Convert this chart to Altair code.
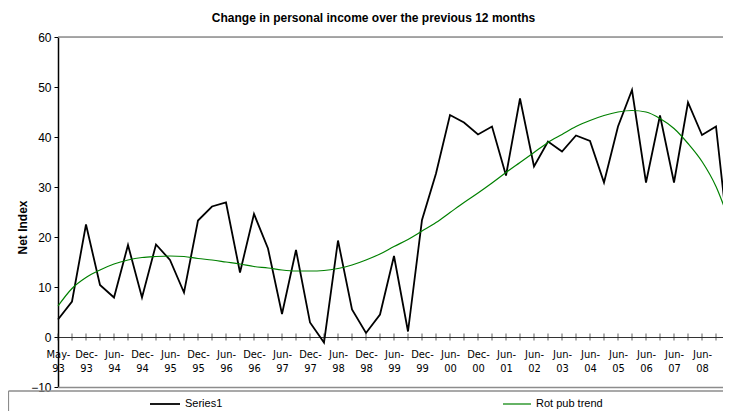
import altair as alt
import pandas as pd

# ---- data ----
series1 = [3.5, 7.1, 22.5, 10.4, 7.9, 18.4, 7.9, 18.5, 15.4, 8.9, 23.3, 26.1, 26.9,
           12.9, 24.6, 17.7, 4.6, 17.4, 2.9, -1.1, 19.3, 5.5, 0.8, 4.5, 16.2, 1.1,
           23.4, 32.7, 44.4, 42.9, 40.5, 42.1, 32.3, 47.7, 34.1, 39.1, 37.1, 40.3,
           39.2, 30.9, 42.1, 49.4, 30.9, 44.3, 30.9, 46.9, 40.4, 42.1, 16.8]
trend = [6.2, 9.7, 11.9, 13.4, 14.6, 15.4, 15.9, 16.1, 16.2, 16.1, 15.7, 15.4, 15.0,
         14.6, 14.1, 13.8, 13.4, 13.2, 13.2, 13.3, 13.7, 14.4, 15.4, 16.6, 18.1, 19.5,
         21.2, 22.9, 24.9, 26.9, 28.8, 30.8, 32.9, 34.9, 36.9, 38.9, 40.5, 42.1,
         43.3, 44.3, 45.0, 45.3, 45.0, 43.7, 41.7, 38.7, 35.1, 30.1, 22.8]
tick_labels = ["May-93", "Dec-93", "Jun-94", "Dec-94", "Jun-95", "Dec-95", "Jun-96",
               "Dec-96", "Jun-97", "Dec-97", "Jun-98", "Dec-98", "Jun-99", "Dec-99",
               "Jun-00", "Dec-00", "Jun-01", "Jun-02", "Jun-03", "Jun-04", "Jun-05",
               "Jun-06", "Jun-07", "Jun-08", "Jun-09"]
series_names = ["Series1", "Rot pub trend"]
y_ticks = [-10, 0, 10, 20, 30, 40, 50, 60]

FONT = "Liberation Sans"
NARROW = "Liberation Sans Narrow, Arial Narrow, DejaVu Sans Condensed, Liberation Sans"

idx = list(range(len(series1)))
df1 = pd.DataFrame({"i": idx, "v": series1})
df2 = pd.DataFrame({"i": idx, "v": trend})

label_js = "[" + ",".join("['%s','%s']" % (l.split("-")[0] + "-", l.split("-")[1]) for l in tick_labels) + "]"
label_expr = label_js + "[round(datum.value/2)]"

W = 665          # plot width in px (14 px per point, last point falls off the right edge)
xscale = alt.Scale(domain=[0, W / 14.0], nice=False, zero=False)
yscale = alt.Scale(domain=[-10, 60], nice=False, zero=False)

x_axis = alt.Axis(values=list(range(0, len(series1), 2)), labelExpr=label_expr,
                  offset=-50, ticks=False, grid=False, domainColor="#333333",
                  domainWidth=1.2, labelFont=NARROW, labelFontSize=11,
                  labelColor="#000000", labelPadding=11, labelLineHeight=14,
                  labelAngle=0, labelAlign="center", labelOverlap=False,
                  labelFlush=False, title=None)
y_axis = alt.Axis(values=y_ticks, grid=False, domainColor="#000000", domainWidth=1.5,
                  tickColor="#000000", tickSize=4, labelFont=FONT, labelFontSize=12,
                  labelColor="#000000", labelPadding=3, title="Net Index",
                  titleFont=FONT, titleFontSize=12, titleFontWeight="bold",
                  titleColor="#000000", titleX=-36, titleY=190, titleBaseline="middle")

X = alt.X("i:Q", scale=xscale, axis=x_axis)
Y = alt.Y("v:Q", scale=yscale, axis=y_axis)

line1 = alt.Chart(df1).mark_line(color="#000000", strokeWidth=1.8).encode(x=X, y=Y)
line2 = alt.Chart(df2).mark_line(color="#008000", strokeWidth=1.2,
                                 interpolate="monotone").encode(x=X, y=Y)
ticks = alt.Chart(pd.DataFrame({"i": idx, "v": [0] * len(idx)})).mark_tick(
    orient="vertical", size=7, thickness=1, color="#222222").encode(x=X, y=Y)

one = pd.DataFrame({"k": [0]})
top_rule = alt.Chart(one).mark_rule(color="#8c8c8c", strokeWidth=1.5).encode(
    y=alt.value(0), x=alt.value(0), x2=alt.value(760))
bot_rule = alt.Chart(one).mark_rule(color="#8c8c8c", strokeWidth=1.5).encode(
    y=alt.value(350.5), x=alt.value(0), x2=alt.value(760))
box_top = alt.Chart(one).mark_rule(color="#8c8c8c", strokeWidth=1.5).encode(
    y=alt.value(354), x=alt.value(-49.5), x2=alt.value(760))
box_left = alt.Chart(one).mark_rule(color="#8c8c8c", strokeWidth=1.2).encode(
    x=alt.value(-49.5), y=alt.value(354), y2=alt.value(420))

LEG_Y = 367
leg_line1 = alt.Chart(one).mark_rule(color="#000000", strokeWidth=1.8).encode(
    x=alt.value(92), x2=alt.value(122), y=alt.value(LEG_Y))
leg_line2 = alt.Chart(one).mark_rule(color="#008000", strokeWidth=1.2).encode(
    x=alt.value(445), x2=alt.value(473), y=alt.value(LEG_Y))
leg_text1 = alt.Chart(pd.DataFrame({"name": [series_names[0]]})).mark_text(
    align="left", baseline="middle", font=FONT, fontSize=11, color="#000000").encode(
    text="name:N", x=alt.value(127), y=alt.value(LEG_Y))
leg_text2 = alt.Chart(pd.DataFrame({"name": [series_names[1]]})).mark_text(
    align="left", baseline="middle", font=FONT, fontSize=11, color="#000000").encode(
    text="name:N", x=alt.value(478), y=alt.value(LEG_Y))

chart = alt.layer(
    line1, top_rule, bot_rule, box_top, box_left, line2, ticks,
    leg_line1, leg_line2, leg_text1, leg_text2,
).properties(
    width=W, height=350,
    title=alt.TitleParams("Change in personal income over the previous 12 months",
                          font=FONT, fontSize=12, fontWeight="bold", color="#000000",
                          anchor="middle", dx=-17, dy=4, offset=1, baseline="alphabetic"),
    autosize=alt.AutoSizeParams(type="none"),
    padding={"left": 50, "top": 29, "right": 0, "bottom": 24},
).configure_view(stroke="transparent", strokeWidth=0).configure(background="#ffffff")

chart.save("out.html", embed_options={"renderer": "svg", "actions": False})
